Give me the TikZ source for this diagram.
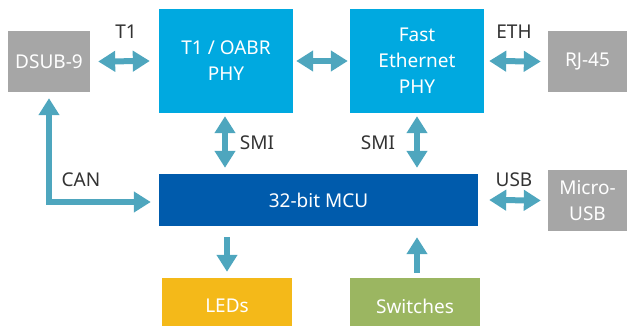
\documentclass[tikz,border=0pt]{standalone}
\usepackage{fontspec}
\setmainfont{Noto Sans}
\usetikzlibrary{arrows.meta}
\definecolor{boxgray}{HTML}{A6A6A6}
\definecolor{phyblue}{HTML}{00A9E0}
\definecolor{mcublue}{HTML}{005BAC}
\definecolor{ledyellow}{HTML}{F4B919}
\definecolor{swgreen}{HTML}{9BB661}
\definecolor{linkc}{HTML}{4EA6BE}
\definecolor{labelc}{HTML}{333333}
\begin{document}
\begin{tikzpicture}[x=1pt,y=-1pt,
  block/.style={rectangle, inner sep=0pt, text=white, align=center,
    font=\fontsize{19}{26}\selectfont},
  tag/.style={anchor=base, inner sep=0pt, text=labelc,
    font=\fontsize{19}{22}\selectfont},
  both/.style={draw=linkc, line width=6pt,
    arrows={Triangle[length=17pt,width=20pt]-Triangle[length=17pt,width=20pt]}},
  one/.style={draw=linkc, line width=6pt,
    arrows={-Triangle[length=17pt,width=20pt]}}]
\useasboundingbox (0,0) rectangle (627,326);

% blocks
\node[block, fill=boxgray, minimum width=82pt, minimum height=61pt] (dsub) at (49,61.5) {DSUB-9};
\node[block, fill=phyblue, minimum width=134pt, minimum height=104pt] (t1phy) at (226,61) {T1 / OABR\\PHY};
\node[block, fill=phyblue, minimum width=134pt, minimum height=104pt] (fephy) at (417,61) {Fast\\Ethernet\\PHY};
\node[block, fill=boxgray, minimum width=79pt, minimum height=61pt] (rj) at (587.5,61.5) {RJ-45};
\node[block, fill=mcublue, minimum width=319pt, minimum height=52pt] (mcu) at (318.5,200) {32-bit MCU};
\node[block, fill=boxgray, minimum width=79pt, minimum height=61pt] (musb) at (587.5,200.5) {Micro-\\USB};
% the lower blocks run past the bottom edge
\node[block, fill=ledyellow, minimum width=130pt, minimum height=56pt] (leds) at (227,306) {LEDs};
\node[block, fill=swgreen, minimum width=130pt, minimum height=56pt] (sw) at (415,306) {Switches};

% connector labels
\node[tag] (lt1) at (126,39) {T1};
\node[tag] (leth) at (514,39) {ETH};
\node[tag] (lsmi1) at (257,150) {SMI};
\node[tag] (lsmi2) at (378,150) {SMI};
\node[tag] (lcan) at (81,186) {CAN};
\node[tag] (lusb) at (514,186) {USB};

% connectors
\draw[both] ([xshift=8pt]dsub.east) -- ([xshift=-9pt]t1phy.west);
\draw[both] ([xshift=3pt]t1phy.east) -- ([xshift=-2pt]fephy.west);
\draw[both] ([xshift=5pt]fephy.east) -- ([xshift=-7pt]rj.west);
\draw[both] ([xshift=-1pt,yshift=-3pt]t1phy.south) -- ([xshift=-1pt,yshift=6pt]t1phy.south |- mcu.north);
\draw[both] ([yshift=-3pt]fephy.south) -- ([yshift=6pt]fephy.south |- mcu.north);
\draw[both] ([yshift=-6pt]dsub.south) |- ([xshift=-8pt,yshift=-2pt]mcu.west);
\draw[both] ([xshift=11pt]mcu.east) -- ([xshift=-7pt]musb.west);
\draw[one] ([yshift=-11pt]leds.north |- mcu.south) -- ([yshift=6pt]leds.north);
\draw[one] ([xshift=2pt,yshift=5pt]sw.north) -- ([xshift=2pt,yshift=-11pt]sw.north |- mcu.south);
\end{tikzpicture}
\end{document}
